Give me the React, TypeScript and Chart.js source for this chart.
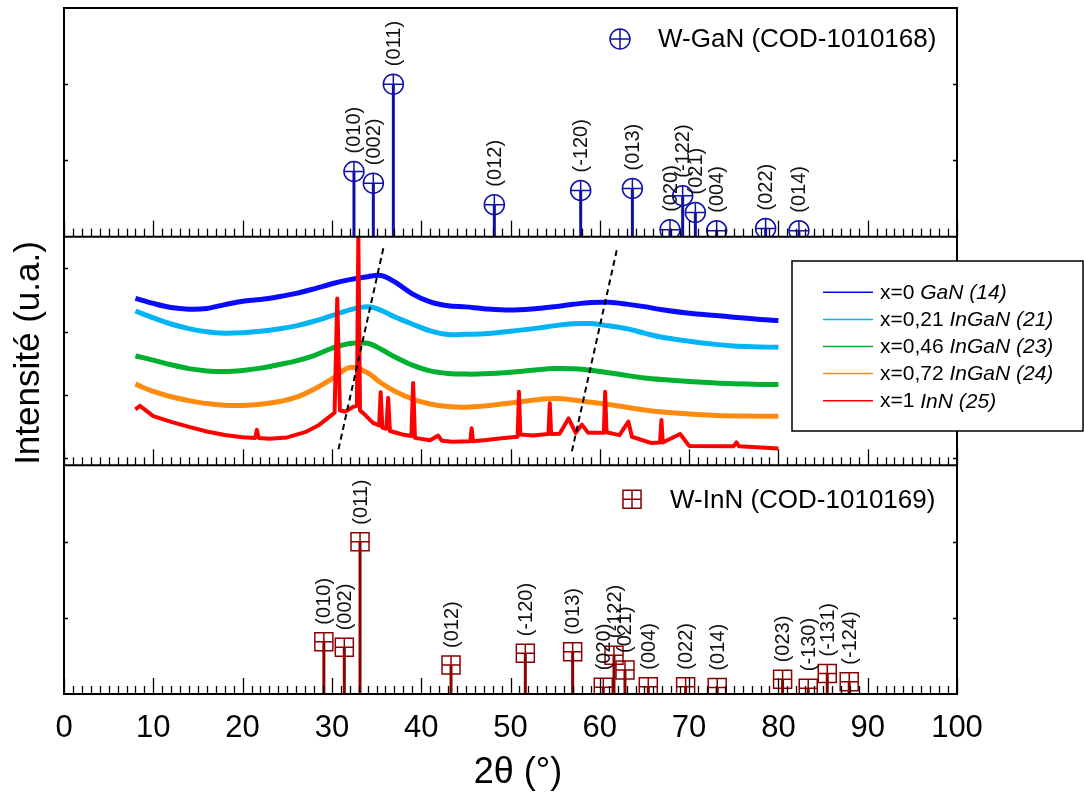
import React, { useEffect, useRef } from 'react';
import { Chart, registerables } from 'chart.js';

Chart.register(...registerables);

const FONT = '"Liberation Sans", Arial, Helvetica, sans-serif';

// ---------- W-GaN reference pattern (COD-1010168) ----------
const ganTwoTheta = [32.47, 34.64, 36.88, 48.19, 57.86, 63.65, 67.86, 69.28, 70.7, 73.09, 78.57, 82.3];
const ganIntensity = [28.5, 23.4, 66.7, 14.0, 20.2, 21.1, 3.0, 17.9, 10.6, 2.6, 3.6, 2.6];
const ganHkl = ['(010)', '(002)', '(011)', '(012)', '(-120)', '(013)', '(020)', '(-122)', '(021)', '(004)', '(022)', '(014)'];

// ---------- W-InN reference pattern (COD-1010169) ----------
const innTwoTheta = [29.1, 31.39, 33.15, 43.34, 51.66, 56.96, 60.39, 61.59, 62.82, 65.43, 69.61, 73.15, 80.47, 83.34, 85.47, 87.93];
const innIntensity = [22.9, 20.4, 66.6, 12.7, 17.8, 18.5, 2.9, 17.0, 10.5, 3.2, 3.2, 2.8, 6.4, 2.5, 9.0, 5.4];
const innHkl = ['(010)', '(002)', '(011)', '(012)', '(-120)', '(013)', '(020)', '(-122)', '(021)', '(004)', '(022)', '(014)', '(023)', '(-130)', '(-131)', '(-124)'];

// ---------- measured scans (offset, arbitrary units) ----------
const scanX = [8, 10, 12, 14, 16, 18, 20, 22, 24, 26, 28, 30, 32, 34, 35.5, 37, 39, 41, 43, 45, 47, 50, 53, 55, 57, 59, 61, 63, 65, 67, 70, 73, 75, 78, 80];
const scanGaN14 = [73.0, 70.8, 69.0, 68.3, 68.6, 70.3, 71.8, 72.5, 73.7, 75.2, 77.2, 79.4, 81.2, 82.5, 83.0, 80.3, 75.0, 71.5, 69.8, 69.3, 68.5, 67.9, 68.6, 69.4, 70.4, 71.2, 71.3, 70.5, 69.4, 68.0, 66.5, 65.5, 64.8, 63.8, 63.3];
const scanInGaN21 = [67.5, 64.5, 61.8, 59.8, 58.4, 57.8, 58.0, 58.6, 59.6, 61.0, 63.0, 65.5, 68.0, 69.3, 67.8, 65.0, 61.8, 58.8, 57.2, 57.3, 57.5, 58.6, 60.0, 61.1, 61.9, 62.0, 61.0, 59.8, 57.8, 56.0, 54.3, 52.9, 52.2, 51.8, 51.6];
const scanInGaN23 = [47.8, 46.0, 44.0, 42.3, 41.3, 41.0, 41.5, 42.5, 44.0, 45.7, 48.0, 51.2, 53.3, 53.4, 50.8, 47.5, 43.8, 41.3, 40.2, 39.9, 40.0, 40.7, 41.8, 42.3, 42.2, 41.6, 40.5, 39.3, 38.2, 37.5, 36.7, 36.0, 35.7, 35.4, 35.3];
const scanInGaN24 = [35.5, 32.3, 30.0, 28.3, 27.0, 26.3, 26.2, 26.7, 27.8, 29.8, 33.3, 37.8, 42.8, 40.5, 36.0, 32.5, 29.0, 26.8, 25.7, 25.4, 25.9, 27.3, 28.7, 29.2, 28.6, 27.6, 26.6, 25.4, 24.2, 23.3, 22.4, 21.8, 21.6, 21.5, 21.5];
const scanInNX = [8, 8.5, 10, 12, 14, 16, 18, 20, 21.4, 21.6, 21.8, 23, 25, 27, 28.5, 29.5, 30.3, 30.6, 30.9, 31.5, 32.4, 32.8, 32.96, 33.15, 33.6, 34.6, 35.3, 35.46, 35.65, 36.1, 36.3, 36.5, 37.9, 38.9, 39.1, 39.3, 41, 41.9, 42.3, 43.5, 45.5, 45.65, 45.8, 47.3, 49, 50.8, 50.95, 51.1, 52.5, 54.25, 54.4, 54.55, 55.5, 56.5, 57.3, 58.0, 58.7, 60.45, 60.6, 60.75, 62.2, 63.2, 63.6, 65.7, 66.75, 66.9, 67.05, 69.0, 70, 75, 75.3, 75.6, 80];
const scanInN25 = [24.5, 26.0, 21.5, 19.0, 16.8, 14.8, 13.3, 12.3, 12.0, 15.5, 12.0, 11.6, 12.2, 14.5, 17.5, 20.5, 23.0, 73.0, 24.0, 23.5, 25.6, 26.0, 100, 24.0, 22.5, 18.6, 17.5, 32.0, 16.5, 16.0, 29.5, 15.0, 13.5, 12.8, 36.0, 12.0, 11.0, 13.0, 10.8, 10.3, 10.5, 16.2, 10.5, 11.1, 11.8, 12.5, 32.2, 13.5, 13.0, 13.7, 27.1, 13.7, 13.8, 20.5, 14.2, 17.8, 14.2, 14.2, 32.2, 14.5, 13.2, 19.1, 12.5, 9.8, 10.0, 19.8, 10.0, 13.7, 8.5, 8.4, 10.0, 8.3, 7.4];

// dashed guide lines (peak shift)
const guide1X = [35.76, 30.65];
const guide1Y = [94.9, 5.5];
const guide2X = [61.9, 56.78];
const guide2Y = [94.1, 4.5];

// axis ticks
const xMin = 0;
const xMax = 100;
const xMajor = 10;
const xMinor = 1;
const refPanelTicks = [33.33, 66.67];
const midPanelTicks = [3, 30.7, 58.4, 86.1];

// legend
const legendPrefix = ['x=0 ', 'x=0,21 ', 'x=0,46 ', 'x=0,72 ', 'x=1 '];
const legendName = ['GaN (14)', 'InGaN (21)', 'InGaN (23)', 'InGaN (24)', 'InN (25)'];

const C_GAN_REF = '#1010a8';
const C_INN_REF = '#8b0000';
const curveColors = ['#0a0aff', '#00b4f5', '#00b030', '#ff8a10', '#ff0000'];

const pts = (xs: number[], ys: number[]) => xs.map((x, i) => ({ x, y: ys[i] }));
const sticks = (xs: number[], ys: number[]) =>
  xs.flatMap((x, i) => [{ x, y: 0 }, { x, y: ys[i] }, { x, y: null as any }]);

const decorPlugin = {
  id: 'decor',
  afterDatasetsDraw(chart: any) {
    const { ctx, chartArea: a, scales } = chart;
    const xs = scales.x;
    const yT = scales.yTop;
    const yM = scales.yMid;
    const yB = scales.yBot;
    ctx.save();
    ctx.strokeStyle = '#000';
    ctx.fillStyle = '#000';

    // x ticks, pointing inward (up) on each panel bottom
    ctx.lineWidth = 1.3;
    for (const p of [yT, yM, yB]) {
      const yb = p.bottom;
      for (let v = xMin; v <= xMax; v += xMinor) {
        const px = Math.round(xs.getPixelForValue(v)) + 0.5;
        const len = v % xMajor === 0 ? 16 : 8;
        ctx.beginPath();
        ctx.moveTo(px, yb);
        ctx.lineTo(px, yb - len);
        ctx.stroke();
      }
    }
    // y ticks left and right
    const yTickSets: [any, number[]][] = [[yT, refPanelTicks], [yM, midPanelTicks], [yB, refPanelTicks]];
    for (const [sc, tv] of yTickSets) {
      for (const v of tv) {
        const py = Math.round(sc.getPixelForValue(v)) + 0.5;
        ctx.beginPath();
        ctx.moveTo(a.left, py);
        ctx.lineTo(a.left + 4, py);
        ctx.moveTo(a.right, py);
        ctx.lineTo(a.right - 4, py);
        ctx.stroke();
      }
    }
    // frame and panel separators
    ctx.lineWidth = 2;
    ctx.strokeRect(a.left, a.top, a.right - a.left, a.bottom - a.top);
    for (const p of [yT, yM]) {
      ctx.beginPath();
      ctx.moveTo(a.left, p.bottom);
      ctx.lineTo(a.right, p.bottom);
      ctx.stroke();
    }

    // hkl labels
    ctx.font = `20px ${FONT}`;
    ctx.textAlign = 'left';
    ctx.textBaseline = 'middle';
    ctx.fillStyle = '#111';
    const drawLabels = (tt: number[], ii: number[], hkl: string[], sc: any, half: number) => {
      tt.forEach((t, i) => {
        const px = xs.getPixelForValue(t);
        const py = sc.getPixelForValue(ii[i]) - half - 8;
        ctx.save();
        ctx.translate(px + 1, py);
        ctx.rotate(-Math.PI / 2);
        ctx.fillText(hkl[i], 0, 0);
        ctx.restore();
      });
    };
    drawLabels(ganTwoTheta, ganIntensity, ganHkl, yT, 10);
    drawLabels(innTwoTheta, innIntensity, innHkl, yB, 9);

    // reference legends
    ctx.font = `26px ${FONT}`;
    ctx.fillStyle = '#000';
    ctx.textBaseline = 'middle';
    ctx.textAlign = 'left';
    // W-GaN
    {
      const cx = 620, cy = yT.top + 31;
      ctx.strokeStyle = C_GAN_REF;
      ctx.lineWidth = 1.5;
      ctx.beginPath();
      ctx.arc(cx, cy, 10, 0, Math.PI * 2);
      ctx.moveTo(cx - 10, cy);
      ctx.lineTo(cx + 10, cy);
      ctx.moveTo(cx, cy - 10);
      ctx.lineTo(cx, cy + 10);
      ctx.stroke();
      ctx.fillText('W-GaN (COD-1010168)', 658, cy + 1);
    }
    // W-InN
    {
      const cx = 632, cy = yB.top + 34;
      ctx.strokeStyle = C_INN_REF;
      ctx.lineWidth = 1.5;
      ctx.beginPath();
      ctx.rect(cx - 9, cy - 9, 18, 18);
      ctx.moveTo(cx - 9, cy);
      ctx.lineTo(cx + 9, cy);
      ctx.moveTo(cx, cy - 9);
      ctx.lineTo(cx, cy + 9);
      ctx.stroke();
      ctx.fillText('W-InN (COD-1010169)', 670, cy + 1);
    }

    // scans legend box
    {
      const bx = 792, by = 261, bw = 291, bh = 170;
      ctx.fillStyle = '#fff';
      ctx.fillRect(bx, by, bw, bh);
      ctx.strokeStyle = '#000';
      ctx.lineWidth = 1.5;
      ctx.strokeRect(bx, by, bw, bh);
      legendPrefix.forEach((pre, i) => {
        const ry = 292.3 + i * 27.1;
        ctx.strokeStyle = curveColors[i];
        ctx.lineWidth = 1.5;
        ctx.beginPath();
        ctx.moveTo(823, ry);
        ctx.lineTo(873, ry);
        ctx.stroke();
        ctx.fillStyle = '#000';
        ctx.font = `21px ${FONT}`;
        ctx.fillText(pre, 880, ry + 1);
        const w = ctx.measureText(pre).width;
        ctx.font = `italic 21px ${FONT}`;
        ctx.fillText(legendName[i], 880 + w, ry + 1);
      });
    }

    // axis titles
    ctx.fillStyle = '#000';
    ctx.font = `35px ${FONT}`;
    ctx.textAlign = 'center';
    ctx.textBaseline = 'middle';
    ctx.save();
    ctx.translate(29, (a.top + a.bottom) / 2 + 2);
    ctx.rotate(-Math.PI / 2);
    ctx.fillText('Intensité (u.a.)', 0, 0);
    ctx.restore();
    ctx.font = `36px ${FONT}`;
    ctx.fillText('2θ (°)', 518, 773);

    ctx.restore();
  },
};

export default function App() {
  const ref = useRef<HTMLCanvasElement>(null);
  useEffect(() => {
    const scanSets = [scanGaN14, scanInGaN21, scanInGaN23, scanInGaN24];
    const datasets: any[] = [
      { type: 'line', yAxisID: 'yMid', data: pts(guide1X, guide1Y), borderColor: '#000', borderWidth: 2, borderDash: [6, 4], pointRadius: 0 },
      { type: 'line', yAxisID: 'yMid', data: pts(guide2X, guide2Y), borderColor: '#000', borderWidth: 2, borderDash: [6, 4], pointRadius: 0 },
      { type: 'line', yAxisID: 'yMid', data: pts(scanInNX, scanInN25), borderColor: curveColors[4], borderWidth: 4, pointRadius: 0, tension: 0, borderJoinStyle: 'round' },
    ];
    for (let i = 3; i >= 0; i--) {
      datasets.push({ type: 'line', yAxisID: 'yMid', data: pts(scanX, scanSets[i]), borderColor: curveColors[i], borderWidth: 5, pointRadius: 0, tension: 0.35 });
    }
    datasets.push(
      { type: 'scatter', yAxisID: 'yTop', data: pts(ganTwoTheta, ganIntensity), pointStyle: 'circle', pointRadius: 10, borderColor: C_GAN_REF, backgroundColor: 'rgba(0,0,0,0)', borderWidth: 1.5, showLine: false },
      { type: 'scatter', yAxisID: 'yTop', data: pts(ganTwoTheta, ganIntensity), pointStyle: 'cross', pointRadius: 10, borderColor: C_GAN_REF, borderWidth: 1.5, showLine: false },
      { type: 'line', yAxisID: 'yTop', data: sticks(ganTwoTheta, ganIntensity), borderColor: C_GAN_REF, borderWidth: 3, pointRadius: 0, spanGaps: false },
      { type: 'scatter', yAxisID: 'yBot', data: pts(innTwoTheta, innIntensity), pointStyle: 'rect', pointRadius: 12.73, borderColor: C_INN_REF, backgroundColor: 'rgba(0,0,0,0)', borderWidth: 1.5, showLine: false },
      { type: 'scatter', yAxisID: 'yBot', data: pts(innTwoTheta, innIntensity), pointStyle: 'cross', pointRadius: 9, borderColor: C_INN_REF, borderWidth: 1.5, showLine: false },
      { type: 'line', yAxisID: 'yBot', data: sticks(innTwoTheta, innIntensity), borderColor: C_INN_REF, borderWidth: 3, pointRadius: 0, spanGaps: false },
    );

    const hiddenY = (weight: number) => ({
      type: 'linear',
      position: 'left',
      stack: 'panels',
      stackWeight: 1,
      weight,
      min: 0,
      max: 100,
      display: false,
      grid: { display: false, drawTicks: false },
    });

    Chart.defaults.font.family = FONT;
    const chart = new Chart(ref.current as HTMLCanvasElement, {
      type: 'scatter',
      data: { datasets },
      options: {
        animation: false,
        responsive: true,
        maintainAspectRatio: false,
        devicePixelRatio: 1,
        events: [],
        layout: { autoPadding: false, padding: { left: 64, right: 127, top: 8, bottom: 34.8 } },
        plugins: { legend: { display: false }, tooltip: { enabled: false }, title: { display: false } },
        scales: {
          x: {
            type: 'linear',
            position: 'bottom',
            min: xMin,
            max: xMax,
            grid: { display: false, drawTicks: false },
            border: { display: false },
            ticks: { stepSize: xMajor, padding: 16, color: '#000', font: { size: 31, family: FONT } },
          },
          yTop: hiddenY(3),
          yMid: hiddenY(2),
          yBot: hiddenY(1),
        } as any,
      },
      plugins: [decorPlugin],
    } as any);
    return () => chart.destroy();
  }, []);
  return (
    <div style={{ position: 'fixed', left: 0, top: 0, width: 1084, height: 798, background: '#fff' }}>
      <canvas ref={ref} />
    </div>
  );
}
